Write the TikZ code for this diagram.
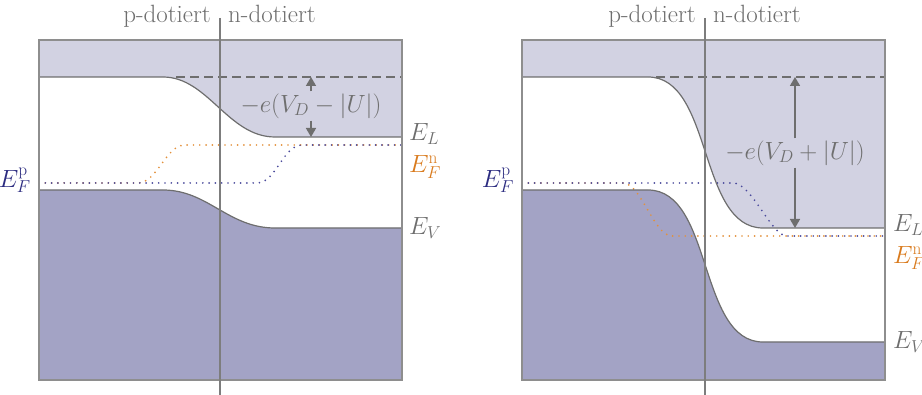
\documentclass[tikz,border=0pt]{standalone}
\usetikzlibrary{arrows.meta}
\definecolor{cband}{HTML}{D2D2E2}
\definecolor{vband}{HTML}{A3A3C5}
\definecolor{edgegray}{HTML}{6E6E6E}
\definecolor{framegray}{HTML}{8E8E8E}
\definecolor{efp}{HTML}{2B2B80}
\definecolor{efn}{HTML}{D97B1E}
\definecolor{dotblue}{HTML}{4B4B9C}
\definecolor{dotorange}{HTML}{E3913C}
\definecolor{txtgray}{HTML}{6E6E6E}
\begin{document}
\begin{tikzpicture}[x=1pt,y=-1pt,
  font=\fontsize{23}{27}\selectfont,
  bandedge/.style={draw=edgegray,line width=1.2pt},
  boxframe/.style={draw=framegray,line width=1.4pt},
  divider/.style={draw=edgegray!90,line width=1.2pt},
  vacdash/.style={draw=edgegray,line width=1.2pt,dash pattern=on 9pt off 5pt},
  fermiblue/.style={draw=dotblue,line width=1.9pt,line cap=round,dash pattern=on 0pt off 6.3pt},
  fermiorange/.style={draw=dotorange,line width=1.9pt,line cap=round,dash pattern=on 0pt off 6.3pt},
  gaparrow/.style={draw=edgegray,line width=1.6pt,-{Triangle[length=9pt,width=10pt]}},
  lbl/.style={inner sep=0pt,text=txtgray},
  toplbl/.style={inner sep=0pt,text=txtgray,font=\fontsize{25}{29}\selectfont},
  gaplbl/.style={inner sep=2pt,text=txtgray}]
\useasboundingbox (0,0) rectangle (922,395);

% ---------------- left panel ----------------
\fill[cband] (39,40) -- (402,40) -- (402,137) -- (275,137)
  .. controls (228,137) and (208,77) .. (163,77) -- (39,77) -- cycle;
\fill[vband] (39,190) -- (163,190) .. controls (208,190) and (228,228) .. (275,228)
  -- (402,228) -- (402,380) -- (39,380) -- cycle;
\draw[fermiorange] (39,183) -- (138,183) .. controls (157,183) and (166,145) .. (185,145) -- (402,145);
\draw[fermiblue] (39,183) -- (257,183) .. controls (276,183) and (283,145) .. (302,145) -- (402,145);
\draw[bandedge] (39,77) -- (163,77) .. controls (208,77) and (228,137) .. (275,137) -- (402,137);
\draw[bandedge] (39,190) -- (163,190) .. controls (208,190) and (228,228) .. (275,228) -- (402,228);
\draw[vacdash] (176,77) -- (402,77);
\draw[boxframe] (39,40) rectangle (402,380);
\coordinate (divLtop) at (220,18);
\coordinate (divLbot) at (220,395);
\draw[divider] (divLtop) -- (divLbot);
\node[toplbl,anchor=base east] (pL) at (211,23) {p-dotiert};
\node[toplbl,anchor=base west] (nL) at (228,23) {n-dotiert};
\node[gaplbl] (gapL) at (311,106) {$-e(V_D-|U|)$};
\coordinate (gapLtop) at (311,77);
\coordinate (gapLbot) at (311,137);
\draw[gaparrow] (gapL) -- (gapLtop);
\draw[gaparrow] (gapL) -- (gapLbot);
\node[lbl,anchor=west] (ELl) at (409,134) {$E_L$};
\node[lbl,anchor=west,text=efn] (EFnl) at (409,167) {$E_F^{\mathrm{n}}$};
\node[lbl,anchor=west] (EVl) at (409,228) {$E_V$};
\node[lbl,anchor=east,text=efp] (EFpl) at (31,180) {$E_F^{\mathrm{p}}$};

% ---------------- right panel ----------------
\fill[cband] (522,40) -- (885,40) -- (885,228) -- (763,228)
  .. controls (698,228) and (713,77) .. (648,77) -- (522,77) -- cycle;
\fill[vband] (522,190) -- (648,190) .. controls (713,190) and (698,342) .. (763,342)
  -- (885,342) -- (885,380) -- (522,380) -- cycle;
\draw[fermiorange] (522,183) -- (623,183) .. controls (641,183) and (654,236) .. (672,236) -- (885,236);
\draw[fermiblue] (522,183) -- (733,183) .. controls (752,183) and (771,236) .. (787,236) -- (885,236);
\draw[bandedge] (522,77) -- (648,77) .. controls (713,77) and (698,228) .. (763,228) -- (885,228);
\draw[bandedge] (522,190) -- (648,190) .. controls (713,190) and (698,342) .. (763,342) -- (885,342);
\draw[vacdash] (656,77) -- (885,77);
\draw[boxframe] (522,40) rectangle (885,380);
\coordinate (divRtop) at (705,18);
\coordinate (divRbot) at (705,395);
\draw[divider] (divRtop) -- (divRbot);
\node[toplbl,anchor=base east] (pR) at (696,23) {p-dotiert};
\node[toplbl,anchor=base west] (nR) at (713,23) {n-dotiert};
\node[gaplbl] (gapR) at (795,153) {$-e(V_D+|U|)$};
\coordinate (gapRtop) at (795,77);
\coordinate (gapRbot) at (795,228);
\draw[gaparrow] (gapR) -- (gapRtop);
\draw[gaparrow] (gapR) -- (gapRbot);
\node[lbl,anchor=west] (ELr) at (893,225) {$E_L$};
\node[lbl,anchor=west,text=efn] (EFnr) at (893,258) {$E_F^{\mathrm{n}}$};
\node[lbl,anchor=west] (EVr) at (893,342) {$E_V$};
\node[lbl,anchor=east,text=efp] (EFpr) at (514,180) {$E_F^{\mathrm{p}}$};
\end{tikzpicture}
\end{document}
